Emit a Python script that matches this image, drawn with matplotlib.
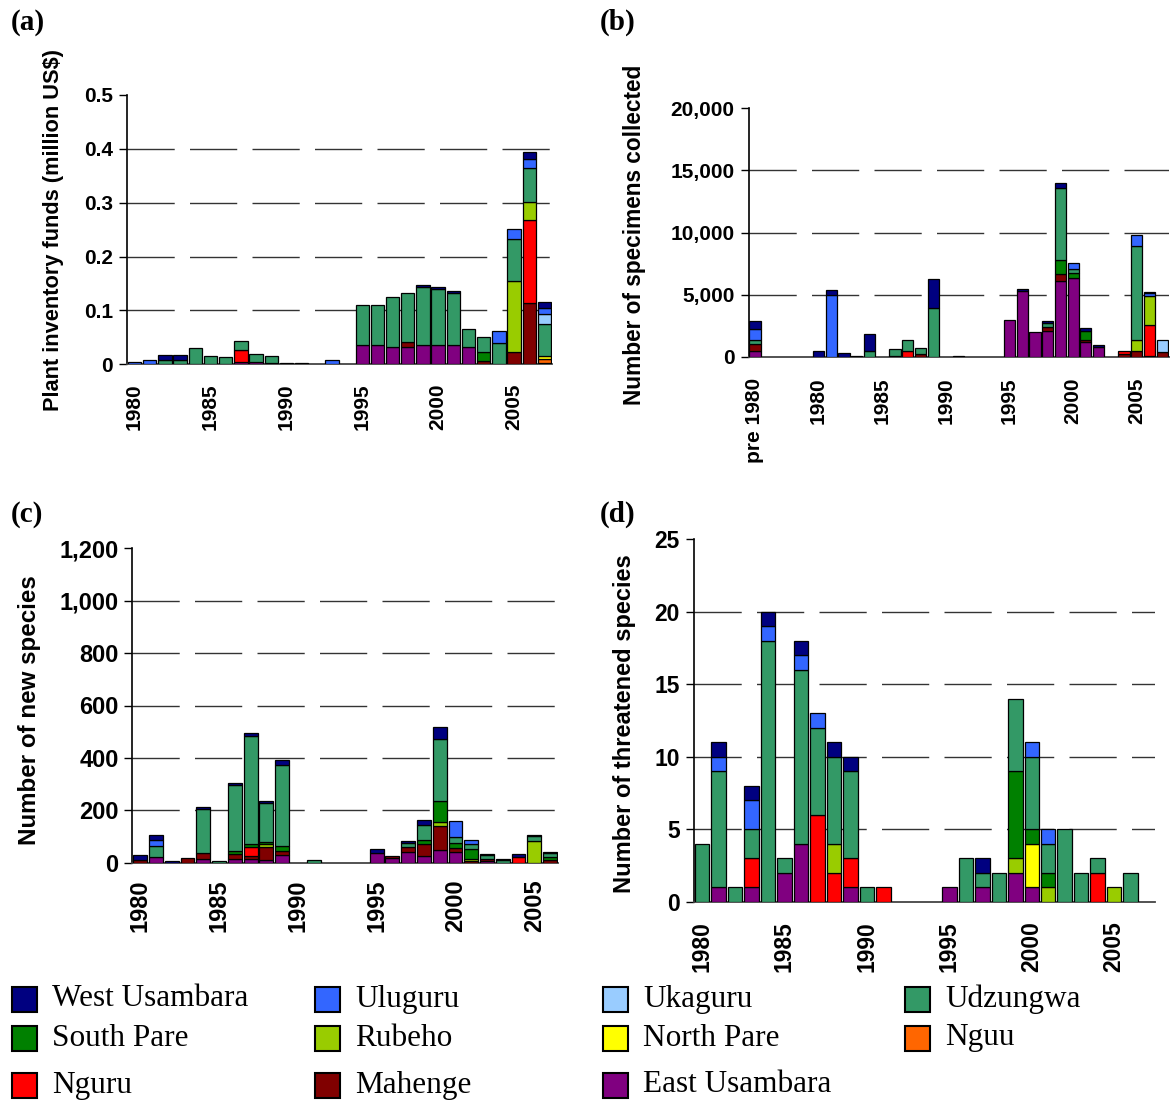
import matplotlib
matplotlib.use("Agg")
import matplotlib.pyplot as plt
from matplotlib.patches import Rectangle
import numpy as np

W, H = 1170, 1104
plt.rcParams["font.family"] = ["Liberation Sans", "DejaVu Sans"]
plt.rcParams["lines.scale_dashes"] = False

regions = ["West Usambara", "Uluguru", "Ukaguru", "Udzungwa", "South Pare", "Rubeho",
           "North Pare", "Nguu", "Nguru", "Mahenge", "East Usambara"]
colors = {
    "West Usambara": "#000080", "Uluguru": "#3366FF", "Ukaguru": "#99CCFF",
    "Udzungwa": "#339966", "South Pare": "#008000", "Rubeho": "#99CC00",
    "North Pare": "#FFFF00", "Nguu": "#FF6600", "Nguru": "#FF0000",
    "Mahenge": "#800000", "East Usambara": "#800080",
}

# (a) plant inventory funds, million US$, 1980-2007
fund_years = list(range(1980, 2008))
funds = {
    "West Usambara": [0, 0, .009, .009, 0, 0, 0, 0, 0, 0, 0, 0, 0, 0, 0, 0, 0, 0, 0, .004,
                      .004, .004, 0, 0, 0, 0, .012, .012],
    "Uluguru": [.005, .008, 0, 0, 0, 0, 0, 0, 0, 0, 0, 0, 0, .008, 0, 0, 0, 0, 0, 0,
                0, 0, 0, 0, .023, .020, .017, .010],
    "Ukaguru": [0, 0, 0, 0, 0, 0, 0, 0, 0, 0, 0, 0, 0, 0, 0, 0, 0, 0, 0, 0,
                0, 0, 0, 0, 0, 0, 0, .020],
    "Udzungwa": [0, 0, .008, .008, .030, .016, .014, .017, .014, .014, .002, .002, 0, 0, 0, .076, .076, .092, .092, .108,
                 .105, .097, .033, .028, .039, .077, .064, .059],
    "South Pare": [0, 0, 0, 0, 0, 0, 0, 0, 0, 0, 0, 0, 0, 0, 0, 0, 0, 0, 0, 0,
                   0, 0, 0, .016, 0, 0, 0, 0],
    "Rubeho": [0, 0, 0, 0, 0, 0, 0, 0, 0, 0, 0, 0, 0, 0, 0, 0, 0, 0, 0, 0,
               0, 0, 0, 0, 0, .133, .033, 0],
    "North Pare": [0, 0, 0, 0, 0, 0, 0, 0, 0, 0, 0, 0, 0, 0, 0, 0, 0, 0, 0, 0,
                   0, 0, 0, 0, 0, 0, 0, .006],
    "Nguu": [0, 0, 0, 0, 0, 0, 0, 0, 0, 0, 0, 0, 0, 0, 0, 0, 0, 0, 0, 0,
             0, 0, 0, 0, 0, 0, 0, .006],
    "Nguru": [0, 0, 0, 0, 0, 0, 0, .022, 0, 0, 0, 0, 0, 0, 0, 0, 0, 0, 0, 0,
              0, 0, 0, 0, 0, 0, .155, 0],
    "Mahenge": [0, 0, 0, 0, 0, 0, 0, 0, 0, .002, 0, 0, 0, 0, 0, 0, 0, 0, .008, 0,
                0, 0, 0, .006, 0, .022, .113, .003],
    "East Usambara": [0, 0, 0, 0, 0, 0, 0, .005, .005, 0, 0, 0, 0, 0, 0, .035, .035, .033, .033, .035,
                      .035, .035, .033, 0, 0, 0, 0, 0],
}

# (b) specimens collected, "pre 1980" then 1980-2007
specimen_years = [1975] + list(range(1980, 2008))
specimens = {
    "West Usambara": [700, 457, 403, 296, 80, 1400, 0, 0, 0, 0, 2312, 0, 80, 0, 0, 0, 0, 160, 0, 190, 430,
                      0, 240, 160, 0, 0, 0, 80, 0],
    "Uluguru": [860, 0, 4973, 0, 0, 0, 0, 0, 0, 0, 0, 0, 0, 0, 0, 0, 0, 0, 0, 0, 0,
                460, 0, 0, 0, 0, 861, 190, 0],
    "Ukaguru": [0, 0, 0, 0, 0, 0, 0, 0, 0, 0, 0, 0, 0, 0, 0, 0, 0, 0, 0, 0, 0,
                0, 0, 0, 0, 0, 0, 0, 995],
    "Udzungwa": [320, 0, 0, 0, 0, 457, 0, 540, 887, 540, 3951, 0, 0, 0, 0, 0, 0, 0, 0, 320, 5780,
                 300, 0, 0, 0, 0, 7607, 0, 0],
    "South Pare": [0, 0, 0, 0, 0, 0, 0, 0, 0, 0, 0, 0, 0, 0, 0, 0, 0, 0, 0, 0, 1128,
                   400, 750, 0, 0, 0, 0, 0, 0],
    "Rubeho": [0, 0, 0, 0, 0, 0, 0, 0, 0, 0, 0, 0, 0, 0, 0, 0, 0, 0, 0, 0, 0,
               0, 0, 0, 0, 0, 833, 2365, 0],
    "North Pare": [0, 0, 0, 0, 0, 0, 0, 0, 0, 0, 0, 0, 0, 0, 0, 0, 0, 0, 0, 0, 0,
                   0, 0, 0, 0, 0, 0, 0, 0],
    "Nguu": [0, 0, 0, 0, 0, 0, 0, 0, 0, 0, 0, 0, 0, 0, 0, 0, 0, 0, 0, 0, 0,
             0, 0, 0, 0, 0, 0, 0, 0],
    "Nguru": [0, 0, 0, 0, 0, 0, 0, 0, 457, 0, 0, 0, 0, 0, 0, 0, 0, 0, 0, 0, 0,
              0, 0, 0, 0, 215, 0, 2470, 0],
    "Mahenge": [540, 0, 0, 0, 0, 0, 0, 80, 0, 190, 0, 0, 0, 0, 0, 0, 0, 0, 0, 320, 565,
                0, 190, 0, 0, 240, 484, 80, 376],
    "East Usambara": [484, 0, 0, 0, 0, 0, 0, 0, 0, 0, 0, 0, 0, 0, 0, 0, 2984, 5268, 1962, 2043, 6075,
                      6370, 1156, 806, 0, 0, 0, 0, 0],
}

# (c) new species described, 1980-2006
species_years = list(range(1980, 2007))
new_species = {
    "West Usambara": [19, 17, 5, 0, 10, 0, 10, 10, 9, 17, 0, 0, 0, 0, 0, 16, 0, 7, 19, 48,
                      0, 0, 4, 3, 10, 4, 6],
    "Uluguru": [0, 23, 0, 0, 0, 0, 0, 0, 0, 0, 0, 0, 0, 0, 0, 0, 0, 0, 0, 0,
                64, 15, 0, 0, 0, 0, 0],
    "Ukaguru": [0, 0, 0, 0, 0, 0, 0, 0, 0, 0, 0, 0, 0, 0, 0, 0, 0, 0, 0, 0,
                0, 0, 0, 0, 0, 0, 0],
    "Udzungwa": [0, 41, 0, 0, 168, 6, 251, 413, 146, 310, 0, 12, 0, 0, 0, 0, 0, 18, 57, 235,
                 23, 19, 17, 10, 0, 19, 13],
    "South Pare": [0, 0, 0, 0, 0, 0, 11, 10, 8, 18, 0, 0, 0, 0, 0, 0, 0, 0, 13, 80,
                   19, 38, 0, 0, 0, 0, 13],
    "Rubeho": [0, 0, 0, 0, 0, 0, 0, 0, 12, 0, 0, 0, 0, 0, 0, 0, 0, 0, 0, 15,
               0, 10, 0, 0, 0, 83, 0],
    "North Pare": [0, 0, 0, 0, 0, 0, 0, 0, 0, 0, 0, 0, 0, 0, 0, 0, 0, 0, 0, 0,
                   0, 0, 0, 0, 0, 0, 0],
    "Nguu": [0, 0, 0, 0, 0, 0, 0, 0, 0, 0, 0, 0, 0, 0, 0, 0, 0, 0, 0, 0,
             0, 0, 0, 0, 0, 0, 0],
    "Nguru": [0, 0, 0, 0, 0, 0, 0, 36, 0, 0, 0, 0, 0, 0, 0, 0, 0, 0, 0, 0,
              0, 0, 0, 0, 23, 0, 0],
    "Mahenge": [10, 0, 0, 18, 22, 0, 18, 10, 50, 17, 0, 0, 0, 0, 0, 0, 10, 17, 48, 93,
                13, 6, 5, 0, 0, 0, 10],
    "East Usambara": [0, 23, 0, 0, 14, 0, 15, 15, 10, 29, 0, 0, 0, 0, 0, 36, 17, 42, 25, 48,
                      42, 0, 8, 0, 0, 0, 0],
}

# (d) threatened species, 1980-2006
threatened = {
    "West Usambara": [0, 1, 0, 1, 1, 0, 1, 0, 1, 1, 0, 0, 0, 0, 0, 0, 0, 1, 0, 0,
                      0, 0, 0, 0, 0, 0, 0],
    "Uluguru": [0, 1, 0, 2, 1, 0, 1, 1, 0, 0, 0, 0, 0, 0, 0, 0, 0, 0, 0, 0,
                1, 1, 0, 0, 0, 0, 0],
    "Ukaguru": [0, 0, 0, 0, 0, 0, 0, 0, 0, 0, 0, 0, 0, 0, 0, 0, 0, 0, 0, 0,
                0, 0, 0, 0, 0, 0, 0],
    "Udzungwa": [4, 8, 1, 2, 18, 1, 12, 6, 6, 6, 1, 0, 0, 0, 0, 0, 3, 1, 2, 5,
                 5, 2, 5, 2, 1, 0, 2],
    "South Pare": [0, 0, 0, 0, 0, 0, 0, 0, 0, 0, 0, 0, 0, 0, 0, 0, 0, 0, 0, 6,
                   1, 1, 0, 0, 0, 0, 0],
    "Rubeho": [0, 0, 0, 0, 0, 0, 0, 0, 2, 0, 0, 0, 0, 0, 0, 0, 0, 0, 0, 1,
               0, 1, 0, 0, 0, 1, 0],
    "North Pare": [0, 0, 0, 0, 0, 0, 0, 0, 0, 0, 0, 0, 0, 0, 0, 0, 0, 0, 0, 0,
                   3, 0, 0, 0, 0, 0, 0],
    "Nguu": [0, 0, 0, 0, 0, 0, 0, 0, 0, 0, 0, 0, 0, 0, 0, 0, 0, 0, 0, 0,
             0, 0, 0, 0, 0, 0, 0],
    "Nguru": [0, 0, 0, 2, 0, 0, 0, 6, 2, 2, 0, 1, 0, 0, 0, 0, 0, 0, 0, 0,
              0, 0, 0, 0, 2, 0, 0],
    "Mahenge": [0, 0, 0, 0, 0, 0, 0, 0, 0, 0, 0, 0, 0, 0, 0, 0, 0, 0, 0, 0,
                0, 0, 0, 0, 0, 0, 0],
    "East Usambara": [0, 1, 0, 1, 0, 2, 4, 0, 0, 1, 0, 0, 0, 0, 0, 1, 0, 1, 0, 2,
                      1, 0, 0, 0, 0, 0, 0],
}

year_ticks = [1980, 1985, 1990, 1995, 2000, 2005]
year_labels = [str(y) for y in year_ticks]

SERIF = ["Liberation Serif", "DejaVu Serif"]


def px_box(left, top, right, bottom):
    return [left / W, 1 - bottom / H, (right - left) / W, (bottom - top) / H]


def stacked_panel(ax, positions, data, xlim, ylim, yticks, ytick_labels, xticks, xtick_labels,
                  fontsize=15, xpad=14):
    positions = np.asarray(positions, dtype=float)
    base = np.zeros(len(positions))
    for name in reversed(regions):
        vals = np.asarray(data[name], dtype=float)
        mask = vals > 0
        if mask.any():
            ax.bar(positions[mask], vals[mask], width=0.88, bottom=base[mask],
                   color=colors[name], edgecolor="black", linewidth=0.9, zorder=3)
        base += vals

    for y in yticks[1:-1]:
        ax.axhline(y, color="#333333", lw=1.0, ls=(0, (34, 11)), zorder=1)

    ax.set_xlim(*xlim)
    ax.set_ylim(*ylim)
    ax.set_yticks(yticks)
    ax.set_yticklabels(ytick_labels, fontsize=fontsize, fontweight="bold")
    ax.set_xticks(xticks)
    ax.set_xticklabels(xtick_labels, rotation=90, va="top", ha="center",
                       fontsize=fontsize, fontweight="bold")
    ax.tick_params(axis="x", length=0, pad=xpad)
    ax.tick_params(axis="y", length=6, width=1.0, pad=4, direction="out")
    for side in ("top", "right"):
        ax.spines[side].set_visible(False)
    ax.spines["left"].set_color("black")
    ax.spines["left"].set_linewidth(1.2)
    ax.spines["bottom"].set_color("#444444")
    ax.spines["bottom"].set_linewidth(1.3)
    ax.set_facecolor("none")


fig = plt.figure(figsize=(W / 100, H / 100), dpi=100)

ax_a = fig.add_axes(px_box(127, 95, 552, 364.3))
stacked_panel(ax_a, fund_years, funds, (1979.5, 2007.5), (0, 0.5),
              [0, 0.1, 0.2, 0.3, 0.4, 0.5], ["0", "0.1", "0.2", "0.3", "0.4", "0.5"],
              year_ticks, year_labels, fontsize=15, xpad=14)

ax_b = fig.add_axes(px_box(748.6, 108.3, 1168.6, 356.7))
stacked_panel(ax_b, specimen_years, specimens, (1974.5, 2007.5), (0, 20000),
              [0, 5000, 10000, 15000, 20000], ["0", "5,000", "10,000", "15,000", "20,000"],
              [1975] + year_ticks, ["pre 1980"] + year_labels, fontsize=15, xpad=15)

ax_c = fig.add_axes(px_box(132.4, 548.3, 557.9, 862.7))
stacked_panel(ax_c, species_years, new_species, (1979.5, 2006.5), (0, 1200),
              [0, 200, 400, 600, 800, 1000, 1200], ["0", "200", "400", "600", "800", "1,000", "1,200"],
              year_ticks, year_labels, fontsize=17, xpad=12)

ax_d = fig.add_axes(px_box(693.8, 539.3, 1155.4, 901.7))
stacked_panel(ax_d, species_years, threatened, (1979.5, 2007.5), (0, 25),
              [0, 5, 10, 15, 20, 25], ["0", "5", "10", "15", "20", "25"],
              year_ticks, year_labels, fontsize=16.5, xpad=14)

# y-axis titles and panel letters
ylabels = [
    (54, 230, "Plant inventory funds (million US$)", 15.7),
    (635, 235, "Number of specimens collected", 16.3),
    (30, 710, "Number of new species", 17.4),
    (624, 724, "Number of threatened species", 17),
]
for x, y, text, size in ylabels:
    fig.text(x / W, 1 - y / H, text, rotation=90, ha="center", va="center",
             fontsize=size, fontweight="bold")

for x, y, letter in [(11, 22, "(a)"), (600, 22, "(b)"), (11, 514, "(c)"), (600, 514, "(d)")]:
    fig.text(x / W, 1 - y / H, letter, ha="left", va="center", family=SERIF,
             fontsize=21, fontweight="bold")

# legend, laid out like the original (4 columns, 3 rows)
legend_cols = [12, 315, 603, 905]
legend_rows = [999, 1038, 1085]
legend_order = [
    ["West Usambara", "Uluguru", "Ukaguru", "Udzungwa"],
    ["South Pare", "Rubeho", "North Pare", "Nguu"],
    ["Nguru", "Mahenge", "East Usambara"],
]
box = 25
for row_y, names in zip(legend_rows, legend_order):
    for col_x, name in zip(legend_cols, names):
        fig.add_artist(Rectangle((col_x / W, 1 - (row_y + box / 2) / H), box / W, box / H,
                                 transform=fig.transFigure, facecolor=colors[name],
                                 edgecolor="black", linewidth=1.5))
        fig.text((col_x + 40) / W, 1 - row_y / H, name, ha="left", va="center",
                 family=SERIF, fontsize=22.5)

fig.savefig("out.png", dpi=100)
